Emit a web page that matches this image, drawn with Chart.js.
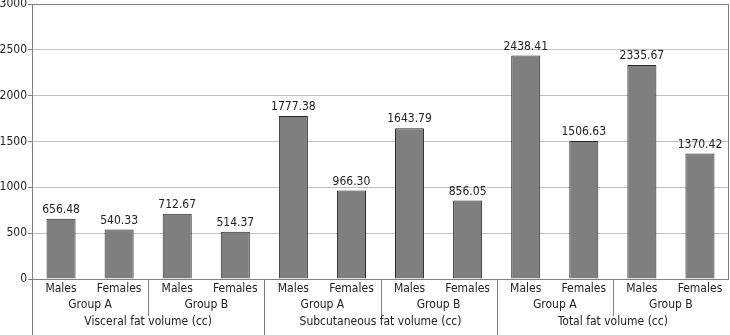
<!DOCTYPE html>
<html>
<head>
<meta charset="utf-8">
<script src="https://cdn.jsdelivr.net/npm/chart.js@4/dist/chart.umd.min.js"></script>
<style>
  html, body { margin: 0; padding: 0; background: #fff; }
  #wrap { width: 730px; height: 335px; position: relative; }
</style>
</head>
<body>
<div id="wrap"><canvas id="chart"></canvas></div>
<script>
// 데이터
const sexLabels = ["Males", "Females", "Males", "Females", "Males", "Females",
                   "Males", "Females", "Males", "Females", "Males", "Females"];
const groupLabels = ["Group A", "Group B", "Group A", "Group B", "Group A", "Group B"];
const measureLabels = ["Visceral fat volume (cc)", "Subcutaneous fat volume (cc)", "Total fat volume (cc)"];
const fatValues = [656.48, 540.33, 712.67, 514.37, 1777.38, 966.30,
                   1643.79, 856.05, 2438.41, 1506.63, 2335.67, 1370.42];
const yTicks = [0, 500, 1000, 1500, 2000, 2500, 3000];

const FONT = "'Liberation Sans Narrow', 'DejaVu Sans Condensed', 'Roboto Condensed', sans-serif";
const TEXT = "#222";

// 값 라벨 + 아래쪽 다단 카테고리 축
const labelsPlugin = {
  id: "labels",
  afterDatasetsDraw(chart) {
    const ctx = chart.ctx;
    const meta = chart.getDatasetMeta(0);
    ctx.save();
    ctx.font = "12px " + FONT;
    ctx.fillStyle = TEXT;
    ctx.textAlign = "center";
    ctx.textBaseline = "bottom";
    meta.data.forEach(function (bar, i) {
      ctx.fillText(fatValues[i].toFixed(2), bar.x, bar.y - 3);
    });
    ctx.restore();
  },
  afterDraw(chart) {
    const ctx = chart.ctx;
    const x = chart.scales.x;
    const area = chart.chartArea;
    const bottom = area.bottom;
    const h = chart.height;
    const px = (i) => x.getPixelForValue(i);

    ctx.save();
    ctx.font = "12px " + FONT;
    ctx.fillStyle = TEXT;
    ctx.textAlign = "center";
    ctx.textBaseline = "middle";

    sexLabels.forEach(function (lab, i) {
      ctx.fillText(lab, px(i), bottom + 10);
    });
    groupLabels.forEach(function (lab, g) {
      ctx.fillText(lab, (px(2 * g) + px(2 * g + 1)) / 2, bottom + 26);
    });
    measureLabels.forEach(function (lab, m) {
      ctx.fillText(lab, (px(4 * m) + px(4 * m + 3)) / 2, bottom + 43);
    });

    // 구분선
    ctx.strokeStyle = "#808080";
    ctx.lineWidth = 1;
    ctx.beginPath();
    for (let i = 0; i < sexLabels.length - 1; i++) {
      if (i % 2 === 0) continue;
      const bx = Math.round((px(i) + px(i + 1)) / 2) + 0.5;
      const end = (i + 1) % 4 === 0 ? h : bottom + 37;
      ctx.moveTo(bx, bottom);
      ctx.lineTo(bx, end);
    }
    // 왼쪽 축 연장
    const lx = Math.round(area.left) + 0.5;
    ctx.moveTo(lx, bottom);
    ctx.lineTo(lx, h);
    // 오른쪽 테두리
    const rx = Math.round(area.right) - 0.5;
    ctx.moveTo(rx, area.top);
    ctx.lineTo(rx, bottom);
    ctx.stroke();
    ctx.restore();
  }
};

new Chart(document.getElementById("chart"), {
  type: "bar",
  data: {
    labels: sexLabels,
    datasets: [{
      data: fatValues,
      backgroundColor: "#7f7f7f",
      borderColor: "#262626",
      borderWidth: 1,
      barPercentage: 1,
      categoryPercentage: 0.5
    }]
  },
  options: {
    responsive: true,
    maintainAspectRatio: false,
    animation: false,
    layout: { padding: { top: 4, right: 1, bottom: 56, left: 0 } },
    plugins: {
      legend: { display: false },
      tooltip: { enabled: false }
    },
    scales: {
      x: {
        display: false,
        offset: true
      },
      y: {
        min: 0,
        max: 3000,
        afterBuildTicks(scale) {
          scale.ticks = yTicks.map(v => ({ value: v }));
        },
        afterFit(scale) {
          scale.width = 32;
          scale.paddingTop = 0;
          scale.paddingBottom = 0;
        },
        border: { color: "#808080", width: 1 },
        grid: {
          color: (c) => (c.tick && (c.tick.value === 0 || c.tick.value === 3000)) ? "#808080" : "#c0c0c0",
          tickColor: "#808080",
          tickLength: 4,
          lineWidth: 1
        },
        ticks: {
          padding: 1,
          color: TEXT,
          font: { size: 12, family: FONT },
          callback: (v) => String(v)
        }
      }
    }
  },
  plugins: [labelsPlugin]
});
</script>
</body>
</html>
